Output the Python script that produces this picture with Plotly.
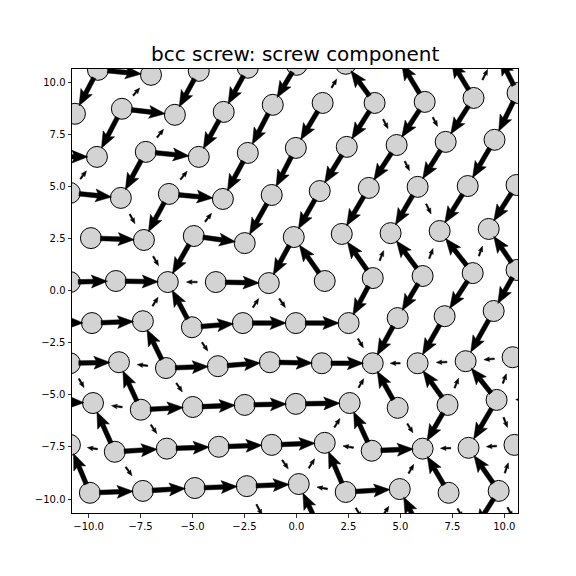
import math
import plotly.graph_objects as go

# ---------------- data ----------------
# Atom positions, one list per lattice row (top to bottom).
# Even rows carry one hidden neighbour at each end (outside the axes).
ROW_X = [
    [-12.0, -9.55, -7.00, -4.70, -2.34, 0.01, 2.37, 4.82, 7.23, 9.63, 12.0],
    [-10.66, -8.40, -5.85, -3.50, -1.14, 1.26, 3.76, 6.17, 8.52, 10.64],
    [-12.0, -9.60, -7.25, -4.70, -2.34, -0.03, 2.42, 4.82, 7.18, 9.53, 12.0],
    [-10.90, -8.45, -6.14, -3.54, -1.19, 1.12, 3.48, 5.83, 8.24, 10.59],
    [-12.3, -9.89, -7.34, -4.94, -2.49, -0.13, 2.18, 4.53, 6.89, 9.25, 11.7],
    [-10.90, -8.69, -6.19, -3.88, -1.33, 1.36, 3.67, 6.07, 8.48, 10.59],
    [-12.2, -9.84, -7.39, -5.03, -2.58, -0.03, 2.51, 4.87, 7.13, 9.49, 11.9],
    [-10.90, -8.54, -6.28, -3.78, -1.28, 1.22, 3.67, 5.83, 8.14, 10.40],
    [-12.2, -9.79, -7.49, -4.99, -2.49, -0.03, 2.56, 4.87, 7.27, 9.63, 12.0],
    [-10.90, -8.74, -6.24, -3.74, -1.19, 1.36, 3.62, 6.07, 8.28, 10.49],
    [-12.4, -9.94, -7.39, -4.89, -2.39, 0.11, 2.37, 4.97, 7.32, 9.73, 12.1],
    [-10.80, -8.40, -6.00, -3.59, -1.19, 1.22, 3.62, 6.02, 8.43, 10.83],
]
ROW_Y = [
    [10.61, 10.61, 10.37, 10.56, 10.71, 10.85, 10.90, 11.30, 11.40, 11.50, 11.55],
    [8.50, 8.74, 8.45, 8.59, 8.93, 9.02, 9.02, 9.07, 9.26, 9.50],
    [6.45, 6.43, 6.67, 6.43, 6.62, 6.86, 6.91, 7.00, 7.15, 7.25, 7.30],
    [4.70, 4.46, 4.65, 4.41, 4.60, 4.79, 4.94, 4.99, 5.03, 5.08],
    [2.50, 2.53, 2.44, 2.63, 2.29, 2.58, 2.73, 2.77, 2.87, 2.97, 3.00],
    [0.42, 0.47, 0.42, 0.42, 0.37, 0.47, 0.61, 0.71, 0.85, 1.00],
    [-1.50, -1.55, -1.46, -1.75, -1.55, -1.55, -1.55, -1.31, -1.22, -0.97, -0.90],
    [-3.48, -3.43, -3.71, -3.62, -3.43, -3.48, -3.48, -3.48, -3.38, -3.19],
    [-5.30, -5.39, -5.71, -5.58, -5.48, -5.43, -5.39, -5.62, -5.48, -5.24, -5.20],
    [-7.40, -7.73, -7.58, -7.49, -7.40, -7.30, -7.68, -7.58, -7.54, -7.40],
    [-9.70, -9.70, -9.61, -9.47, -9.38, -9.28, -9.66, -9.52, -9.70, -9.61, -9.60],
    [-11.65, -11.65, -11.65, -11.65, -11.65, -11.65, -11.65, -11.65, -11.65, -11.65],
]

# Differential displacements: (row, index, signed relative magnitude)
# H: to right neighbour; DL / DR: to lower-left / lower-right neighbour.
H_ARROWS = [
    (0, 1, 1.0),
    (1, 1, 1.0),
    (2, 0, 1.0), (2, 2, 1.0),
    (3, 0, 1.0), (3, 2, 1.0),
    (4, 1, 1.0), (4, 3, 1.0),
    (5, 0, 1.0), (5, 1, 1.0), (5, 2, -0.35), (5, 3, 1.0),
    (6, 0, 1.0), (6, 1, 1.0), (6, 3, 1.0), (6, 4, 1.0), (6, 5, 1.0),
    (7, 0, 1.0), (7, 1, -0.35), (7, 2, 1.0), (7, 3, 1.0), (7, 4, 1.0),
    (7, 5, 1.0), (7, 6, -0.35), (7, 7, -0.35), (7, 8, -0.35),
    (8, 0, 1.0), (8, 1, -0.35), (8, 2, 1.0), (8, 3, 1.0), (8, 4, 1.0),
    (8, 5, 1.0), (8, 9, -0.35),
    (9, 0, -0.35), (9, 1, 1.0), (9, 2, 1.0), (9, 3, 1.0), (9, 4, 1.0),
    (9, 5, -0.35), (9, 6, 1.0), (9, 7, -0.35), (9, 8, -0.35),
    (10, 1, 1.0), (10, 2, 1.0), (10, 3, 1.0), (10, 4, 1.0), (10, 5, -0.35),
    (10, 6, 1.0),
]
DL_ARROWS = [
    (0, 1, 1.0), (0, 2, -0.35), (0, 3, 1.0), (0, 4, 1.0), (0, 5, 1.0),
    (0, 6, -0.35), (0, 9, -0.35),
    (1, 1, 1.0), (1, 2, -0.35), (1, 3, 1.0), (1, 4, 1.0), (1, 5, 1.0),
    (1, 6, 1.0), (1, 7, 1.0), (1, 8, 1.0), (1, 9, 1.0),
    (2, 1, -0.35), (2, 2, 1.0), (2, 3, -0.35), (2, 4, 1.0), (2, 5, 1.0),
    (2, 6, 1.0), (2, 7, 1.0), (2, 8, 1.0), (2, 9, 1.0),
    (3, 2, 1.0), (3, 3, -0.35), (3, 4, 1.0), (3, 5, 1.0), (3, 6, 1.0),
    (3, 7, 1.0), (3, 8, 1.0), (3, 9, 1.0),
    (4, 3, 1.0), (4, 5, 1.0), (4, 7, -0.35), (4, 8, -0.35), (4, 9, -0.35),
    (5, 2, -0.35), (5, 4, -0.35), (5, 6, 1.0), (5, 7, 1.0), (5, 8, 1.0),
    (5, 9, 1.0),
    (6, 7, 1.0), (6, 8, 1.0), (6, 9, 1.0),
    (7, 6, -0.35), (7, 8, -0.35), (7, 9, -0.35),
    (8, 6, -0.35), (8, 8, 1.0), (8, 9, 1.0),
    (9, 5, -0.35), (9, 7, -0.35), (9, 9, -0.35),
    (10, 7, -0.35), (10, 9, 1.0),
]
DR_ARROWS = [
    (0, 6, -1.0), (0, 7, -1.0), (0, 8, -1.0), (0, 9, -1.0),
    (1, 6, 0.35), (1, 7, 0.35),
    (2, 7, 0.35),
    (3, 1, 0.35), (3, 7, 0.35),
    (4, 2, 0.35), (4, 5, -1.0), (4, 6, -1.0), (4, 7, -1.0), (4, 8, -1.0),
    (4, 9, -1.0),
    (5, 2, -1.0), (5, 4, 0.35),
    (6, 2, -1.0), (6, 3, 0.35), (6, 6, 0.35),
    (7, 0, 0.35), (7, 1, -1.0), (7, 2, 0.35), (7, 6, -1.0), (7, 7, -1.0),
    (7, 8, -1.0),
    (8, 1, -1.0), (8, 2, 0.35), (8, 6, -1.0), (8, 7, 0.35), (8, 9, 0.35),
    (9, 0, -1.0), (9, 1, 0.35), (9, 4, 0.35), (9, 5, -1.0), (9, 7, -1.0),
    (9, 8, -1.0),
    (10, 4, 0.35), (10, 5, -1.0), (10, 6, 0.35), (10, 7, -1.0), (10, 8, 0.35),
    (10, 9, 0.35),
]

TITLE = "bcc screw: screw component"
TICKS = [-10.0, -7.5, -5.0, -2.5, 0.0, 2.5, 5.0, 7.5, 10.0]

# ---------------- geometry helpers ----------------
def neighbour(r, j, kind):
    even = (r % 2 == 0)
    if kind == "H":
        return r, j + 1
    if kind == "DL":
        return r + 1, (j - 1 if even else j)
    return r + 1, (j if even else j + 1)


LEN_FRAC = 0.64      # full arrow length as fraction of the bond
SHAFT_HW = 0.11      # half shaft width (full arrow)
HEAD_HW = 0.31       # half head width (full arrow)
HEAD_L = 0.78        # head length (full arrow)
HEAD_AX = 0.68       # head axis length (notch)

px, py = [], []
for kind, lst in (("H", H_ARROWS), ("DL", DL_ARROWS), ("DR", DR_ARROWS)):
    for r, j, m in lst:
        r2, j2 = neighbour(r, j, kind)
        ax_, ay_ = ROW_X[r][j], ROW_Y[r][j]
        bx_, by_ = ROW_X[r2][j2], ROW_Y[r2][j2]
        dx, dy = bx_ - ax_, by_ - ay_
        d = math.hypot(dx, dy)
        ux, uy = dx / d, dy / d
        if m < 0:
            ux, uy = -ux, -uy
        s = abs(m)
        L = s * LEN_FRAC * d
        cx, cy = (ax_ + bx_) / 2, (ay_ + by_) / 2
        tx, ty = cx - ux * L / 2, cy - uy * L / 2
        hx, hy = cx + ux * L / 2, cy + uy * L / 2
        nx, ny = -uy, ux
        w, hw, hl, ha = SHAFT_HW * s, HEAD_HW * s, HEAD_L * s, HEAD_AX * s
        bxx, byy = hx - ux * ha, hy - uy * ha
        hbx, hby = hx - ux * hl, hy - uy * hl
        poly = [
            (tx + nx * w, ty + ny * w),
            (bxx + nx * w, byy + ny * w),
            (hbx + nx * hw, hby + ny * hw),
            (hx, hy),
            (hbx - nx * hw, hby - ny * hw),
            (bxx - nx * w, byy - ny * w),
            (tx - nx * w, ty - ny * w),
            (tx + nx * w, ty + ny * w),
        ]
        for p in poly:
            px.append(p[0])
            py.append(p[1])
        px.append(None)
        py.append(None)

atom_x = [v for row in ROW_X for v in row]
atom_y = [v for row in ROW_Y for v in row]

fig = go.Figure()
fig.add_trace(go.Scatter(
    x=atom_x, y=atom_y, mode="markers", cliponaxis=True,
    marker=dict(size=21, color="#d3d3d3", line=dict(color="black", width=1)),
    hoverinfo="skip", showlegend=False))
fig.add_trace(go.Scatter(
    x=px, y=py, mode="lines", fill="toself", fillcolor="black",
    line=dict(color="black", width=0.5), hoverinfo="skip", showlegend=False))


def fmt(v):
    s = f"{abs(v):.1f}"
    return ("\u2212" + s) if v < 0 else s


axis_common = dict(
    tickmode="array", tickvals=TICKS, ticktext=[fmt(v) for v in TICKS],
    ticks="outside", ticklen=3.5, tickwidth=0.8, tickcolor="black",
    showline=True, linecolor="black", linewidth=1, mirror=True,
    showgrid=False, zeroline=False,
    tickfont=dict(family="DejaVu Sans", size=10, color="black"),
)
fig.update_xaxes(range=[-10.80, 10.66], **axis_common)
fig.update_yaxes(range=[-10.67, 10.65], **axis_common)

fig.update_layout(
    width=576, height=576, autosize=False,
    margin=dict(l=72, r=58, t=69, b=63),
    plot_bgcolor="white", paper_bgcolor="white",
    hovermode=False,
    annotations=[dict(
        text=TITLE, x=0.5, y=1, xref="paper", yref="paper",
        xanchor="center", yanchor="bottom", yshift=1, showarrow=False,
        font=dict(family="DejaVu Sans", size=20, color="black"))],
)
fig.write_html("out.html",
               config={"displayModeBar": False, "staticPlot": True},
               post_script="document.body.style.margin='0';"
                           "document.body.style.overflow='hidden';")
